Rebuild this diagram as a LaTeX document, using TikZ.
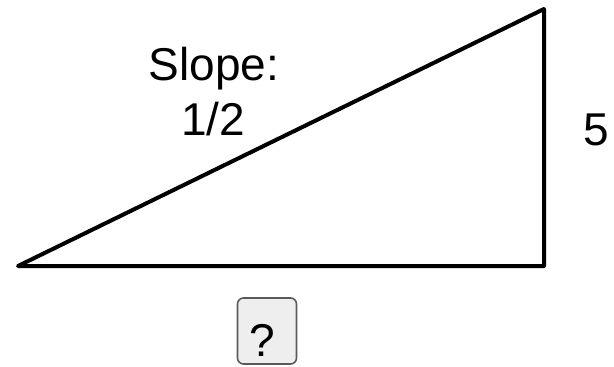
\documentclass[tikz,border=0pt]{standalone}
\usepackage{fontspec}
\setmainfont{Liberation Sans}
\usetikzlibrary{positioning}

\definecolor{boxfill}{HTML}{EEEEEE}
\definecolor{boxline}{HTML}{5A5A5A}

\begin{document}
\begin{tikzpicture}[x=1pt, y=-1pt,
    label/.style={font=\fontsize{46}{55}\selectfont, inner sep=0pt},
    unknown/.style={draw=boxline, fill=boxfill, line width=1.6pt, rounded corners=6pt,
        minimum width=59pt, minimum height=66pt, inner sep=0pt,
        text height=50pt, text depth=0pt, font=\fontsize{46}{55}\selectfont}]

    % 1. Obszar rysunku (piksele referencji)
    \useasboundingbox (0,0) rectangle (614,367);

    % 2. Wierzchołki trójkąta
    \coordinate (A) at (18, 266);     % lewy wierzchołek
    \coordinate (B) at (544, 266);    % kąt prosty
    \coordinate (C) at (544, 9);      % górny wierzchołek

    % 3. Trójkąt
    \draw[line width=4pt, line join=round] (A) -- (B) -- (C) -- cycle;

    % 4. Podpisy
    \node[label, anchor=base] (slope) at (214, 80) {Slope:};
    \node[label, anchor=base] (ratio) at (213, 135) {1/2};
    \node[label, anchor=base] (height) at (596, 145) {5};

    % 5. Pole z niewiadomą długością podstawy
    \node[unknown] (base) at (267, 331) {\hspace*{-9pt}?};

\end{tikzpicture}
\end{document}
